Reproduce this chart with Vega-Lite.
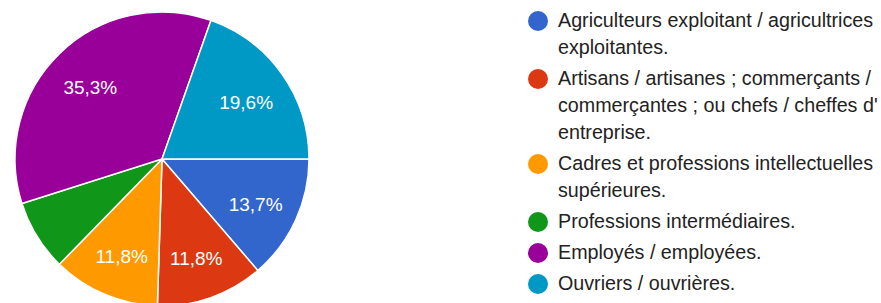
{
  "$schema": "https://vega.github.io/schema/vega-lite/v6.json",
  "width": 324,
  "height": 318,
  "padding": 0,
  "background": "white",
  "view": {"stroke": null},
  "data": {
    "values": [
      {"rank": 1, "category": "Agriculteurs exploitant / agricultrices exploitantes.", "value": 13.7, "label": "13,7%"},
      {"rank": 2, "category": "Artisans / artisanes ; commerçants / commerçantes ; ou chefs / cheffes d' entreprise.", "value": 11.8, "label": "11,8%"},
      {"rank": 3, "category": "Cadres et professions intellectuelles supérieures.", "value": 11.8, "label": "11,8%"},
      {"rank": 4, "category": "Professions intermédiaires.", "value": 7.8, "label": "7,8%"},
      {"rank": 5, "category": "Employés / employées.", "value": 35.3, "label": "35,3%"},
      {"rank": 6, "category": "Ouvriers / ouvrières.", "value": 19.6, "label": "19,6%"}
    ]
  },
  "encoding": {
    "theta": {"field": "value", "type": "quantitative", "stack": true, "scale": {"range": [1.5708, 7.8540]}},
    "order": {"field": "rank", "type": "quantitative", "sort": "ascending"},
    "color": {
      "field": "category",
      "type": "nominal",
      "sort": [
        "Agriculteurs exploitant / agricultrices exploitantes.",
        "Artisans / artisanes ; commerçants / commerçantes ; ou chefs / cheffes d' entreprise.",
        "Cadres et professions intellectuelles supérieures.",
        "Professions intermédiaires.",
        "Employés / employées.",
        "Ouvriers / ouvrières."
      ],
      "scale": {"range": ["#3366cc", "#dc3912", "#ff9900", "#109618", "#990099", "#0099c6"]},
      "legend": {
        "title": null,
        "orient": "right",
        "offset": 193,
        "padding": 11,
        "symbolType": "circle",
        "symbolSize": 400,
        "symbolStrokeWidth": 0,
        "symbolOpacity": 1,
        "labelFont": "Liberation Sans",
        "labelFontSize": 19.7,
        "labelColor": "#222222",
        "labelOffset": 10,
        "labelLimit": 500,
        "rowPadding": 11,
        "labelExpr": "split(replace(replace(replace(replace(datum.label, ' exploitantes', '|exploitantes'), ' commerçantes', '|commerçantes'), ' entreprise', '|entreprise'), ' supérieures', '|supérieures'), '|')",
        "encode": {"labels": {"update": {"lineHeight": {"value": 27}}}}
      }
    }
  },
  "layer": [
    {"mark": {"type": "arc", "outerRadius": 147, "stroke": "white", "strokeWidth": 1.5}},
    {
      "mark": {"type": "text", "radius": 103, "dy": 3, "fill": "white", "fontSize": 19, "font": "Liberation Sans", "align": "center", "baseline": "middle"},
      "encoding": {
        "text": {"condition": {"test": "datum.value < 10", "value": ""}, "field": "label", "type": "nominal"}
      }
    }
  ]
}
